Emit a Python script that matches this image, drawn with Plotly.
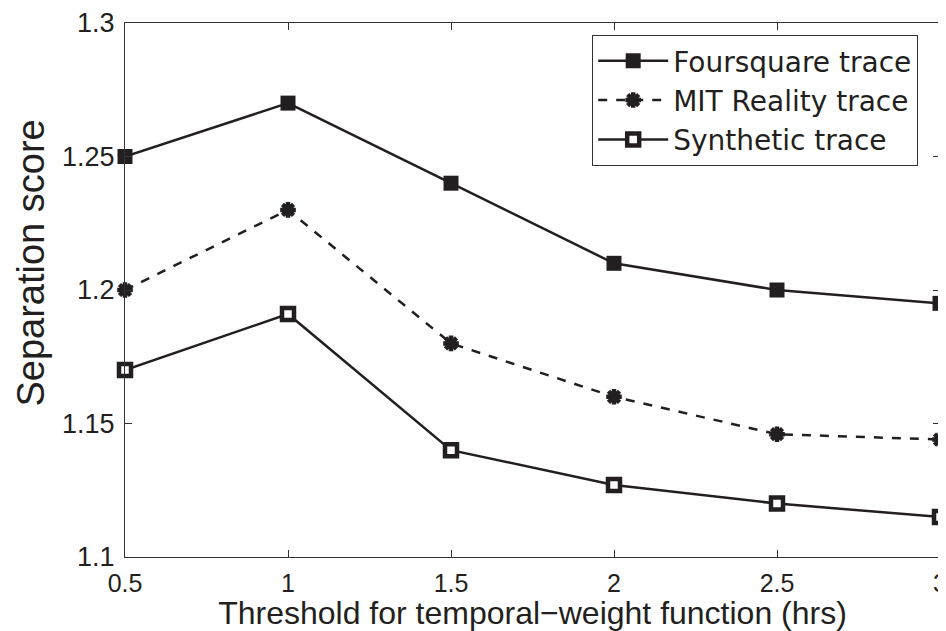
import plotly.graph_objects as go

thresholds = [0.5, 1, 1.5, 2, 2.5, 3]
foursquare = [1.25, 1.27, 1.24, 1.21, 1.20, 1.195]
mit_reality = [1.20, 1.23, 1.18, 1.16, 1.146, 1.144]
synthetic = [1.17, 1.191, 1.14, 1.127, 1.12, 1.115]

x_ticks = [0.5, 1, 1.5, 2, 2.5, 3]
x_tick_text = ["0.5", "1", "1.5", "2", "2.5", "3"]
y_ticks = [1.1, 1.15, 1.2, 1.25, 1.3]
y_tick_text = ["1.1", "1.15", "1.2", "1.25", "1.3"]

ink = "#231f20"
font_family = "Liberation Sans, Arial, sans-serif"

fig = go.Figure()
fig.add_trace(go.Scatter(
    x=thresholds, y=foursquare, name="Foursquare trace", mode="lines+markers",
    line=dict(color=ink, width=2.5),
    marker=dict(symbol="square", size=15, color=ink),
    cliponaxis=False,
))
fig.add_trace(go.Scatter(
    x=thresholds, y=mit_reality, name="MIT Reality trace", mode="lines+markers",
    line=dict(color=ink, width=2.5, dash="dash"),
    marker=dict(symbol="asterisk-open", size=13, color=ink, line=dict(color=ink, width=4.5)),
    cliponaxis=False,
))
fig.add_trace(go.Scatter(
    x=thresholds, y=synthetic, name="Synthetic trace", mode="lines+markers",
    line=dict(color=ink, width=2.5),
    marker=dict(symbol="square", size=12, color="white", line=dict(color=ink, width=4.5)),
    cliponaxis=False,
))

axis_common = dict(
    showline=True, linecolor="#333333", linewidth=1.2, mirror="ticks",
    ticks="inside", ticklen=7, tickcolor="#333333", tickwidth=1.2,
    showgrid=False, zeroline=False, automargin=False,
    ticklabeloverflow="allow",
)

# page body has an 8px default margin, so the figure is sized to fit the window
fig.update_layout(
    width=938, height=623,
    margin=dict(l=117, r=6, t=15, b=74),
    paper_bgcolor="white", plot_bgcolor="white",
    font=dict(family=font_family, size=26, color=ink),
    xaxis=dict(range=[0.5, 3], tickvals=x_ticks, ticktext=x_tick_text,
               tickfont=dict(family=font_family, size=25, color=ink),
               ticklabelstandoff=4,
               title=dict(text="Threshold for temporal\u2212weight function (hrs)",
                          font=dict(size=32), standoff=0),
               **axis_common),
    yaxis=dict(range=[1.1, 1.3], tickvals=y_ticks, ticktext=y_tick_text,
               tickfont=dict(family=font_family, size=27, color=ink),
               ticklabelstandoff=4,
               **axis_common),
    legend=dict(x=0.573, y=0.978, xanchor="left", yanchor="top",
                bgcolor="white", bordercolor="#333333", borderwidth=1.2,
                font=dict(family="DejaVu Sans, sans-serif", size=28, color=ink),
                tracegroupgap=0, itemwidth=70),
    showlegend=True,
    annotations=[dict(
        text="Separation score", textangle=-90, showarrow=False,
        xref="paper", yref="paper", x=-0.115, y=0.55,
        xanchor="center", yanchor="middle",
        font=dict(family=font_family, size=38, color=ink),
    )],
)

fig.write_html("out.html")
